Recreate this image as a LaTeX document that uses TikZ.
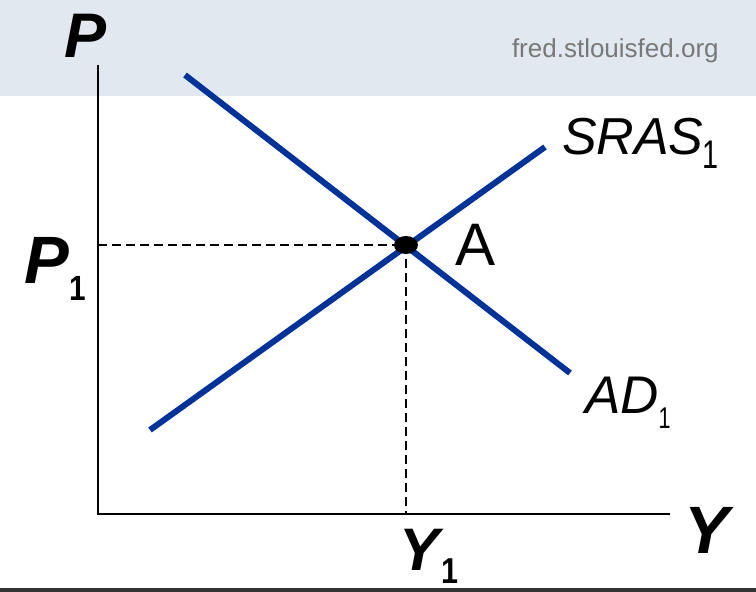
\documentclass[tikz,border=0pt]{standalone}
\usepackage{fontspec}
\setmainfont{Liberation Sans}
\usetikzlibrary{shapes.geometric}
\definecolor{bandbg}{RGB}{225,232,240}
\definecolor{curveblue}{RGB}{0,51,153}
\definecolor{urlgray}{RGB}{120,120,120}
\definecolor{barGray}{RGB}{51,51,51}
\tikzset{
  axisline/.style={line width=2.5pt, black},
  curve/.style={line width=6pt, curveblue},
  guide/.style={line width=1.5pt, black, dash pattern=on 9pt off 5pt},
  lbl/.style={inner sep=0pt, outer sep=0pt, anchor=base west}
}
\newcommand{\fsz}[1]{\fontsize{#1}{#1}\selectfont}
\newcommand{\narrowsub}[4]{\raisebox{-#1pt}{\scalebox{#4}[1]{\fsz{#2}\upshape #3}}}
\begin{document}
\begin{tikzpicture}[x=1pt,y=-1pt]
\useasboundingbox (0,0) rectangle (756,592);
\fill[bandbg] (0,0) rectangle (756,96);
\fill[barGray] (0,588) rectangle (756,592);
% coordinates
\coordinate (origin) at (98,514);
\coordinate (ytop) at (98,65);
\coordinate (xend) at (670,514);
\coordinate (adA) at (185,75);
\coordinate (adB) at (570,373);
\coordinate (srA) at (150,430);
\coordinate (srB) at (545,147);
\coordinate (eq) at (406,245);
\coordinate (pax) at (98,245);
\coordinate (yax) at (406,514);
% axes
\draw[axisline] (ytop) -- (origin) -- (xend);
% guides
\draw[guide] (pax) -- (eq);
\draw[guide] (eq) -- (yax);
% curves
\draw[curve] (adA) -- (adB);
\draw[curve] (srA) -- (srB);
% equilibrium dot
\node[fill=black, ellipse, minimum width=24pt, minimum height=18pt, inner sep=0pt] (dot) at (eq) {};
% labels
\node[lbl] (url) at (512,57) {\fsz{26}\color{urlgray}fred.stlouisfed.org};
\node[lbl] (plab) at (64,57) {\fsz{63}\bfseries\itshape P};
\node[lbl] (p1lab) at (24,283) {\fsz{67}\bfseries\itshape P\kern1pt\narrowsub{17}{35}{1}{0.85}};
\node[lbl] (ylab) at (684,553) {\fsz{67}\bfseries\itshape Y};
\node[lbl] (y1lab) at (399,570) {\fsz{60}\bfseries\itshape Y\kern2pt\narrowsub{13}{36}{1}{0.85}};
\node[lbl] (alab) at (455,265) {\fsz{60}A};
\node[lbl] (sraslab) at (562,154) {\fsz{52}\itshape SRAS\kern-1pt\narrowsub{14}{40}{1}{0.72}};
\node[lbl] (adlab) at (585,413) {\fsz{53}\itshape AD\narrowsub{15}{30}{1}{0.72}};
\end{tikzpicture}
\end{document}
